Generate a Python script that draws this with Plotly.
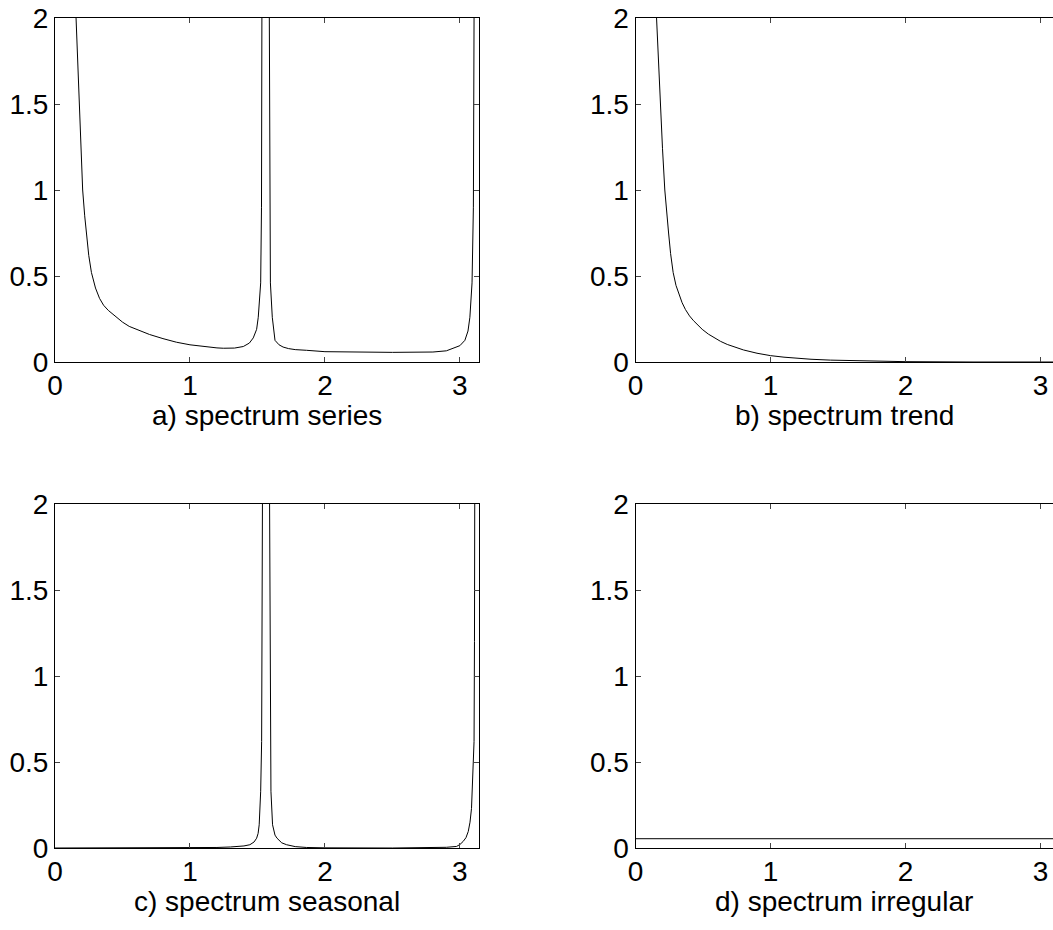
import plotly.graph_objects as go
from plotly.subplots import make_subplots

# values (frequency in radians, spectral density)
series_x = [0.156, 0.165, 0.18, 0.19, 0.205, 0.22, 0.235, 0.25, 0.27, 0.285, 0.30, 0.33, 0.36,
            0.395, 0.45, 0.5, 0.55, 0.605, 0.7, 0.8, 0.9, 1.0, 1.1, 1.2, 1.247, 1.33, 1.395,
            1.44, 1.469, 1.494, 1.506, 1.517, 1.524, 1.53, 1.533, None,
            1.588, 1.592, 1.596, 1.61, 1.63, 1.66, 1.69, 1.73, 1.78, 1.864, 2.0, 2.5, 2.8, 2.9,
            2.95, 3.0, 3.037, 3.06, 3.074, 3.09, 3.1, 3.105]
series_y = [2.0, 1.8, 1.5, 1.28, 1.0, 0.85, 0.72, 0.62, 0.52, 0.47, 0.43, 0.37, 0.33,
            0.30, 0.262, 0.232, 0.207, 0.188, 0.16, 0.136, 0.115, 0.1, 0.09, 0.082, 0.08, 0.081, 0.09,
            0.11, 0.14, 0.19, 0.26, 0.36, 0.46, 0.9, 2.0, None,
            2.0, 0.9, 0.46, 0.26, 0.126, 0.1, 0.087, 0.078, 0.072, 0.068, 0.06, 0.056, 0.058, 0.065,
            0.078, 0.095, 0.126, 0.18, 0.26, 0.46, 0.9, 2.0]

trend_x = [0.156, 0.17, 0.185, 0.2, 0.217, 0.23, 0.245, 0.26, 0.279, 0.3, 0.32, 0.345, 0.37,
           0.40, 0.43, 0.46, 0.494, 0.54, 0.58, 0.63, 0.68, 0.74, 0.8, 0.9, 1.0, 1.1, 1.2,
           1.3, 1.444, 1.6, 1.81, 2.0, 2.5, 3.1]
trend_y = [2.0, 1.74, 1.5, 1.24, 1.0, 0.87, 0.75, 0.63, 0.52, 0.445, 0.395, 0.345, 0.305,
           0.268, 0.24, 0.215, 0.19, 0.162, 0.142, 0.12, 0.102, 0.085, 0.07, 0.051, 0.037,
           0.028, 0.021, 0.016, 0.011, 0.008, 0.005, 0.002, 0.0, 0.0]

seasonal_x = [0.0, 0.5, 1.0, 1.2, 1.3, 1.4, 1.444, 1.475, 1.494, 1.505, 1.513, 1.524, 1.531,
              1.534, 1.537, None,
              1.590, 1.594, 1.600, 1.612, 1.63, 1.645, 1.68, 1.716, 1.78, 1.864, 2.0, 2.5,
              2.8, 2.9, 2.975, 3.0, 3.024, 3.045, 3.062, 3.075, 3.086, 3.098, 3.105, 3.108, 3.11]
seasonal_y = [0.0, 0.0, 0.001, 0.003, 0.006, 0.012, 0.019, 0.035, 0.057, 0.085, 0.135, 0.33, 0.62,
              1.2, 2.0, None,
              2.0, 0.62, 0.33, 0.135, 0.075, 0.057, 0.03, 0.019, 0.008, 0.003, 0.001, 0.0,
              0.002, 0.004, 0.009, 0.02, 0.038, 0.06, 0.096, 0.15, 0.23, 0.43, 0.62, 1.2, 2.0]

irregular_x = [0.0, 3.1416]
irregular_y = [0.054, 0.054]

titles = ["a) spectrum series", "b) spectrum trend", "c) spectrum seasonal", "d) spectrum irregular"]
x_ticks = [0, 1, 2, 3]
y_ticks = [0, 0.5, 1, 1.5, 2]
y_tick_text = ["0", "0.5", "1", "1.5", "2"]

W, H = 1053, 930
font = dict(family="Liberation Sans, Arial, sans-serif", size=28, color="black")

fig = make_subplots(rows=2, cols=2)

curves = [(series_x, series_y), (trend_x, trend_y), (seasonal_x, seasonal_y), (irregular_x, irregular_y)]
for i, (xs, ys) in enumerate(curves):
    fig.add_trace(
        go.Scatter(x=xs, y=ys, mode="lines", line=dict(color="black", width=1),
                   connectgaps=False, showlegend=False, hoverinfo="skip"),
        row=i // 2 + 1, col=i % 2 + 1
    )

# pixel boxes of the four axes (right column runs past the window edge, so cut the range)
x_doms = [[55 / W, 479 / W], [635.5 / W, 1.0]]
x_ranges = [[0, 3.1416], [0, (W - 635.5) / 135.0]]
y_px = [(18, 362), (504, 848)]
y_doms = [[(H - b) / H, (H - t) / H] for t, b in y_px]

for i in range(4):
    r, c = i // 2, i % 2
    fig.update_xaxes(
        domain=x_doms[c], range=x_ranges[c], tickvals=x_ticks, ticks="inside", ticklen=5,
        showline=True, linecolor="black", linewidth=1, mirror="ticks", showgrid=False,
        zeroline=False, tickfont=font, automargin=False, ticklabeloverflow="allow",
        ticklabelstandoff=-2,
        row=r + 1, col=c + 1
    )
    fig.update_yaxes(
        domain=y_doms[r], range=[0, 2], tickvals=y_ticks, ticktext=y_tick_text,
        ticks="inside", ticklen=5, showline=True, linecolor="black", linewidth=1,
        mirror="ticks" if c == 0 else False, showgrid=False, zeroline=False, tickfont=font,
        automargin=False, ticklabeloverflow="allow",
        row=r + 1, col=c + 1
    )
    # x labels under each panel
    fig.add_annotation(
        text=titles[i], xref="paper", yref="paper",
        x=sum(x_doms[c]) / 2, y=(H - (y_px[r][1] + 53)) / H,
        xanchor="center", yanchor="middle", showarrow=False, font=font
    )

fig.update_layout(
    width=W, height=H,
    margin=dict(l=0, r=0, t=0, b=0),
    paper_bgcolor="white", plot_bgcolor="white",
    font=font,
)

# drop the default body margin so the figure sits at the window corner
fig.write_html("out.html", config={"displayModeBar": False},
               post_script="document.body.style.margin = '0';")
